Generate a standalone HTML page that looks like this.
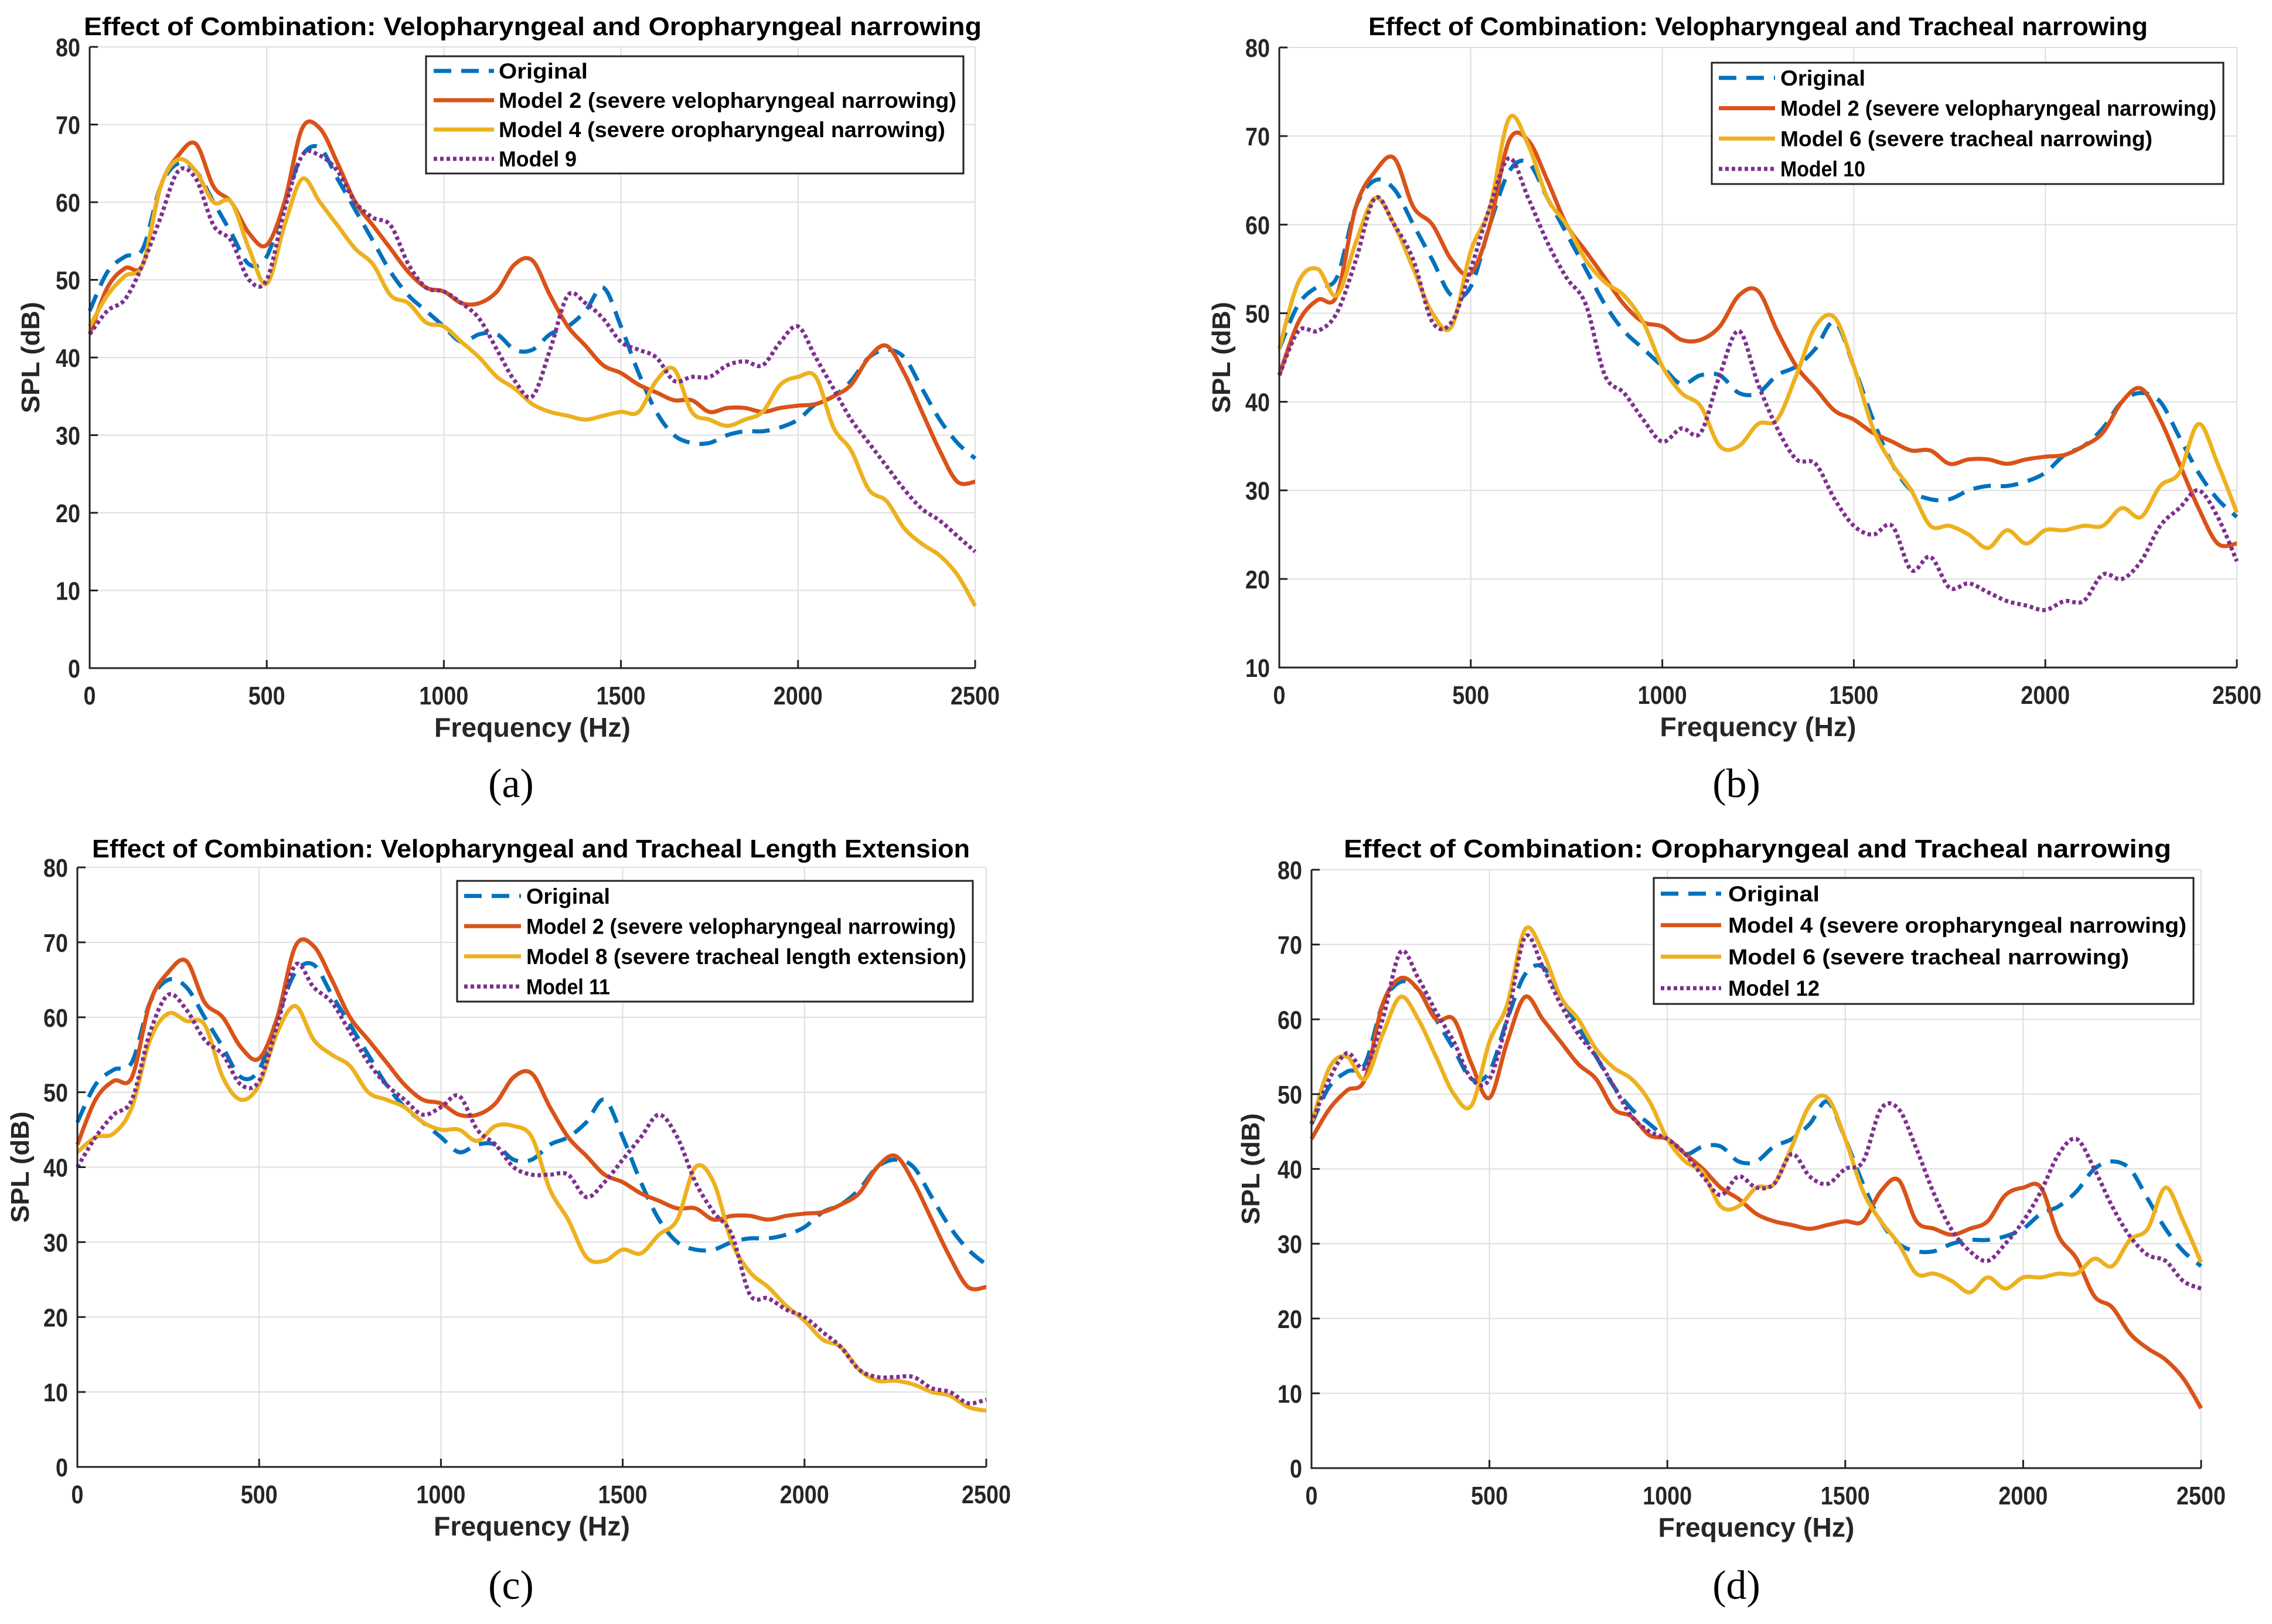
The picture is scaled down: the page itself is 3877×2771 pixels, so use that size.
<!DOCTYPE html>
<html><head><meta charset="utf-8">
<style>
html,body{margin:0;padding:0;background:#fff;}
svg{display:block;}
text{font-family:"Liberation Sans",Arial,sans-serif;}
</style></head>
<body>
<svg id="fig" width="3877" height="2771" viewBox="0 0 3877 2771" xmlns="http://www.w3.org/2000/svg">
<rect x="0" y="0" width="3877" height="2771" fill="#fff"/>
</svg>
<script>
// ---- data (50 Hz grid, 0..2500 Hz) ----
const freqs = [];
for (let f = 0; f <= 2500; f += 50) freqs.push(f);
const original = [46,51,53,54,62,65,64,60,56,52,53,60,66,67,63,59,55,51,48,46,44,42,43,43,41,41,43,44,46,49,44,38,33,30,29,29,30,30.5,30.5,31,32,34,35,37,40,41,40,36,32,29,27];
const model2 = [43,49,51.5,52,62,66,67.5,62,60,56,54.5,60,69.5,69.5,65,60,57,54,51,49,48.5,47,47,48.5,52,52.5,48,44,41.5,39,38,36.5,35.5,34.5,34.5,33,33.5,33.5,33,33.5,33.8,34,35,36.5,40,41.5,38,33,28,24,24];
const model4 = [44,48,50.5,52,62,65.5,64,60,60,54,49.5,57,63,60,57,54,52,48,47,44.5,44,42,40,37.5,36,34,33,32.5,32,32.5,33,33,37,38.5,33,32,31.2,32,33,36.5,37.5,37.5,31,28,23,21.5,18,16,14.5,12,8];
const model6 = [46,53.5,55,52,58,63,60,55,50,48.5,57,62,72,69,63,60,56,53.5,52,49,44,41,39.5,35,35,37.5,38,43,48.5,49.5,44,37,33,30,26,26,25,23.5,25.5,24,25.5,25.5,26,26,28,27,30.5,32,37.5,33,27.5];
const model8 = [42,44,44.5,48,57,60.5,59.5,59,52,49,51,58,61.5,57,55,53.5,50,49,48,46,45,45,43.5,45.5,45.5,44,37,33,28,27.5,29,28.5,31,33,40,38,30,26,24,21.5,19.5,17,16,13,11.5,11.5,11,10,9.5,8,7.5];
const model9 = [43,46,47.5,52,58,64,63,57,55,50,50,59,66,66,64,60,58,57,52,49,48.5,47,45,41,37,35,41,48,47,45,42,41,40,37,37.5,37.5,39,39.5,39,42,44,40,36,32,29,26,23,20.5,19,17,15];
const model10 = [43,48,48,50,56,63,60,56,49,49,55,62,67.5,63,58,54,51,43,41,38,35.5,37,36.5,43,48,42,37,33.5,33,29,26,25,26,21,22.5,19,19.5,18.5,17.5,17,16.5,17.5,17.5,20.5,20,22,26,28,30,27,22];
const model11 = [40,44,47,49,58,63,61,57,55,51,51.5,59,67,64,62,58,54,51,49,47,48,49.5,45,43,40,39,39,39,36,38,41,44,47,44,38,34,31,23,22.5,21,20,18,16,13,12,12,12,10.5,10,8.5,9];
const model12 = [46,52,55.5,53.5,60,69,65.5,61,57,52,52,60,71,67,62,58,55,51,47,45,44,42,39,36.5,39,37.5,38,42,39,38,40,41,48,48,42.7,36.6,31.8,29,27.7,30,33,37,42,44,40,35,31,28.5,27.7,25,24];
const xTicks = [0,500,1000,1500,2000,2500];
const yTicksA = [0,10,20,30,40,50,60,70,80];
const yTicksB = [10,20,30,40,50,60,70,80];

const COLORS = {orig:'#0072BD', red:'#D95319', yel:'#EDB120', pur:'#7E2F8E'};
const NS = 'http://www.w3.org/2000/svg';
const svg = document.getElementById('fig');

function el(tag, attrs, parent) {
  const e = document.createElementNS(NS, tag);
  for (const k in attrs) e.setAttribute(k, attrs[k]);
  (parent || svg).appendChild(e);
  return e;
}
function txt(str, attrs, parent) {
  const t = el('text', attrs, parent);
  t.textContent = str;
  return t;
}
function smoothPath(pts) {
  let d = 'M' + pts[0][0].toFixed(1) + ',' + pts[0][1].toFixed(1);
  for (let i = 0; i < pts.length - 1; i++) {
    const p0 = pts[Math.max(0, i - 1)], p1 = pts[i], p2 = pts[i + 1], p3 = pts[Math.min(pts.length - 1, i + 2)];
    const c1x = p1[0] + (p2[0] - p0[0]) / 6, c1y = p1[1] + (p2[1] - p0[1]) / 6;
    const c2x = p2[0] - (p3[0] - p1[0]) / 6, c2y = p2[1] - (p3[1] - p1[1]) / 6;
    d += ' C' + c1x.toFixed(1) + ',' + c1y.toFixed(1) + ' ' + c2x.toFixed(1) + ',' + c2y.toFixed(1) + ' ' + p2[0].toFixed(1) + ',' + p2[1].toFixed(1);
  }
  return d;
}
const styles = {
  dash: {'stroke-dasharray':'30 17', 'stroke-width':7},
  solid: {'stroke-width':7},
  dot: {'stroke-dasharray':'6 5', 'stroke-width':7}
};

const panels = [
  {id:'a', L:153, R:1664, T:80, B:1140, ymin:0, ymax:80, yt:yTicksA,
   title:'Effect of Combination: Velopharyngeal and Oropharyngeal narrowing', tx0:143, tx1:1675, tBase:60,
   lg:{x0:727,x1:1644,y0:96,y1:296, s0:740, s1:843, tx:851, wlong:781},
   series:[
     {name:'Original', vals:original, color:COLORS.orig, st:'dash'},
     {name:'Model 2 (severe velopharyngeal narrowing)', vals:model2, color:COLORS.red, st:'solid'},
     {name:'Model 4 (severe oropharyngeal narrowing)', vals:model4, color:COLORS.yel, st:'solid'},
     {name:'Model 9', vals:model9, color:COLORS.pur, st:'dot'}],
   ylabX:52, lab:'(a)', labX:872, labY:1360},
  {id:'b', L:2183, R:3817, T:81, B:1139, ymin:10, ymax:80, yt:yTicksB,
   title:'Effect of Combination: Velopharyngeal and Tracheal narrowing', tx0:2335, tx1:3665, tBase:60,
   lg:{x0:2921,x1:3794,y0:107,y1:314, s0:2933, s1:3029, tx:3038, wlong:744},
   series:[
     {name:'Original', vals:original, color:COLORS.orig, st:'dash'},
     {name:'Model 2 (severe velopharyngeal narrowing)', vals:model2, color:COLORS.red, st:'solid'},
     {name:'Model 6 (severe tracheal narrowing)', vals:model6, color:COLORS.yel, st:'solid'},
     {name:'Model 10', vals:model10, color:COLORS.pur, st:'dot'}],
   ylabX:2084, lab:'(b)', labX:2963, labY:1360},
  {id:'c', L:132, R:1683, T:1480, B:2503, ymin:0, ymax:80, yt:yTicksA,
   title:'Effect of Combination: Velopharyngeal and Tracheal Length Extension', tx0:157, tx1:1655, tBase:1463,
   lg:{x0:780,x1:1660,y0:1503,y1:1709, s0:792, s1:889, tx:898, wlong:751},
   series:[
     {name:'Original', vals:original, color:COLORS.orig, st:'dash'},
     {name:'Model 2 (severe velopharyngeal narrowing)', vals:model2, color:COLORS.red, st:'solid'},
     {name:'Model 8 (severe tracheal length extension)', vals:model8, color:COLORS.yel, st:'solid'},
     {name:'Model 11', vals:model11, color:COLORS.pur, st:'dot'}],
   ylabX:34, lab:'(c)', labX:872, labY:2728},
  {id:'d', L:2238, R:3756, T:1484, B:2505, ymin:0, ymax:80, yt:yTicksA,
   title:'Effect of Combination: Oropharyngeal and Tracheal narrowing', tx0:2293, tx1:3705, tBase:1463,
   lg:{x0:2822,x1:3743,y0:1498,y1:1713, s0:2834, s1:2937, tx:2949, wlong:782},
   series:[
     {name:'Original', vals:original, color:COLORS.orig, st:'dash'},
     {name:'Model 4 (severe oropharyngeal narrowing)', vals:model4, color:COLORS.red, st:'solid'},
     {name:'Model 6 (severe tracheal narrowing)', vals:model6, color:COLORS.yel, st:'solid'},
     {name:'Model 12', vals:model12, color:COLORS.pur, st:'dot'}],
   ylabX:2134, lab:'(d)', labX:2963, labY:2728}
];

panels.forEach(p => {
  const g = el('g', {});
  
  
  const xs = f => p.L + (f / 2500) * (p.R - p.L);
  const ys = v => p.B - (v - p.ymin) / (p.ymax - p.ymin) * (p.B - p.T);

  xTicks.forEach(t => {
    const ln = el('line', {x1:xs(t), x2:xs(t), y1:p.T, y2:p.B, stroke:'#dedede', 'stroke-width':2}, g);
    
    
  });
  p.yt.forEach(t => {
    const ln = el('line', {x1:p.L, x2:p.R, y1:ys(t), y2:ys(t), stroke:'#dedede', 'stroke-width':2}, g);
    
    
  });
  p.series.forEach((s, i) => {
    const pts = freqs.map((f, k) => [xs(f), ys(s.vals[k])]);
    const attrs = Object.assign({d:smoothPath(pts), fill:'none', stroke:s.color, 'stroke-linejoin':'round'}, styles[s.st]);
    const path = el('path', attrs, g);
    
    
  });
  const ax = el('path', {d:'M' + p.L + ',' + p.T + ' L' + p.L + ',' + p.B + ' L' + p.R + ',' + p.B, fill:'none', stroke:'#222', 'stroke-width':3}, g);
  
  
  xTicks.forEach(t => {
    const tk = el('line', {x1:xs(t), x2:xs(t), y1:p.B, y2:p.B - 14, stroke:'#222', 'stroke-width':3}, g);
    
    
    const lb = txt(String(t), {x:xs(t), y:p.B + 62, 'text-anchor':'middle', 'font-size':44, 'font-weight':'bold', fill:'#262626', textLength:String(t).length * 21, lengthAdjust:'spacingAndGlyphs'}, g);
    
    
  });
  p.yt.forEach(t => {
    const tk = el('line', {x1:p.L, x2:p.L + 14, y1:ys(t), y2:ys(t), stroke:'#222', 'stroke-width':3}, g);
    
    
    const lb = txt(String(t), {x:p.L - 16, y:ys(t) + 16, 'text-anchor':'end', 'font-size':44, 'font-weight':'bold', fill:'#262626', textLength:String(t).length * 21, lengthAdjust:'spacingAndGlyphs'}, g);
    
    
  });
  const tt = txt(p.title, {x:p.tx0, y:p.tBase, 'font-size':44, 'font-weight':'bold', fill:'#000', textLength:p.tx1 - p.tx0, lengthAdjust:'spacingAndGlyphs'}, g);
  
  
  const cx = (p.L + p.R) / 2;
  const xl = txt('Frequency (Hz)', {x:cx, y:p.B + 117, 'text-anchor':'middle', 'font-size':46, 'font-weight':'bold', fill:'#262626', textLength:335, lengthAdjust:'spacingAndGlyphs'}, g);
  
  
  const cy = (p.T + p.B) / 2;
  const yl = txt('SPL (dB)', {x:p.ylabX + 15, y:cy, 'text-anchor':'middle', 'font-size':44, 'font-weight':'bold', fill:'#262626', transform:'rotate(-90 ' + (p.ylabX + 15) + ' ' + cy + ')', textLength:190, lengthAdjust:'spacingAndGlyphs'}, g);
  
  
  const lg = p.lg;
  const lgG = el('g', {}, g);
  
  
  el('rect', {x:lg.x0, y:lg.y0, width:lg.x1 - lg.x0, height:lg.y1 - lg.y0, fill:'#fff', stroke:'#222', 'stroke-width':3}, lgG);
  const rowH = (lg.y1 - lg.y0) / 4;
  const longest = Math.max(...p.series.map(s => s.name.length));
  const perChar = lg.wlong / longest;
  p.series.forEach((s, i) => {
    const yy = lg.y0 + rowH * (i + 0.5);
    const ent = el('g', {}, lgG);
    
    
    el('line', Object.assign({x1:lg.s0, x2:lg.s1, y1:yy, y2:yy, stroke:s.color}, styles[s.st]), ent);
    txt(s.name, {x:lg.tx, y:yy + 13, 'font-size':37, 'font-weight':'bold', fill:'#000', textLength:(s.name.length * perChar).toFixed(0), lengthAdjust:'spacingAndGlyphs'}, ent);
  });
  const pl = txt(p.lab, {x:p.labX, y:p.labY, 'text-anchor':'middle', 'font-size':70, fill:'#000', style:'font-family:"Liberation Serif",serif'}, g);
  
  
});
</script>
</body></html>
